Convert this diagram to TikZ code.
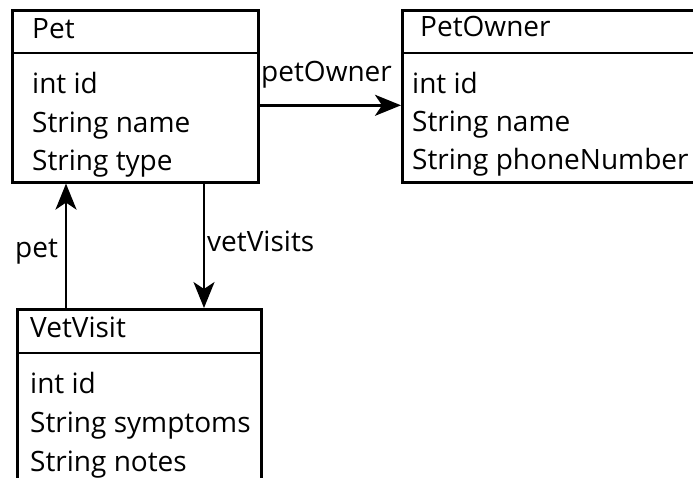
\documentclass[tikz,border=0pt]{standalone}
\usepackage{fontspec}
\setmainfont{Open Sans}
\usetikzlibrary{arrows.meta}
\begin{document}
\begin{tikzpicture}[x=1pt,y=-1pt,
  box/.style={draw=black,line width=2.6pt,inner sep=0pt,anchor=north west},
  txt/.style={anchor=base west,inner sep=0pt,font=\fontsize{28}{32}\selectfont},
  arr/.style={line width=2.4pt,-{Stealth[length=26pt,width=21pt,inset=7pt]}},
  divider/.style={line width=2.6pt}]
\useasboundingbox (0,0) rectangle (693,477);
\clip (0,0) rectangle (693,477);
% boxes
\node[box,minimum width=246pt,minimum height=172pt] (pet) at (11,9) {};
\node[box,minimum width=320pt,minimum height=172pt] (owner) at (401,9) {};
\node[box,minimum width=244pt,minimum height=200pt] (vet) at (16,308) {};
% dividers
\draw[divider] (pet.west |- 0,53) -- (pet.east |- 0,53);
\draw[divider] (owner.west |- 0,53) -- (owner.east |- 0,53);
\draw[divider] (vet.west |- 0,353) -- (vet.east |- 0,353);
% Pet texts
\node[txt] (pettitle) at (32,38) {Pet};
\node[txt] (petid) at (32,93) {int id};
\node[txt] (petname) at (32,132) {String name};
\node[txt] (pettype) at (32,170) {String type};
% PetOwner texts
\node[txt] (ownertitle) at (420,36) {PetOwner};
\node[txt] (ownerid) at (412,93) {int id};
\node[txt] (ownername) at (412,131) {String name};
\node[txt] (ownerphone) at (412,169) {String phoneNumber};
% VetVisit texts
\node[txt] (vettitle) at (30,337) {VetVisit};
\node[txt] (vetid) at (30,393) {int id};
\node[txt] (vetsym) at (30,432) {String symptoms};
\node[txt] (vetnotes) at (30,471) {String notes};
% connectors
\coordinate (a1) at ([yshift=-9pt]pet.east);
\draw[arr] (a1) -- (a1 -| owner.west);
\node[txt] (lblowner) at (261,81) {petOwner};
\coordinate (b1) at ([xshift=50pt]vet.north west);
\draw[arr] (b1) -- (b1 |- pet.south);
\node[txt] (lblpet) at (15,257) {pet};
\coordinate (c1) at ([xshift=193pt]pet.south west);
\draw[arr] (c1) -- (c1 |- vet.north);
\node[txt] (lblvisits) at (207,251) {vetVisits};
\end{tikzpicture}
\end{document}
